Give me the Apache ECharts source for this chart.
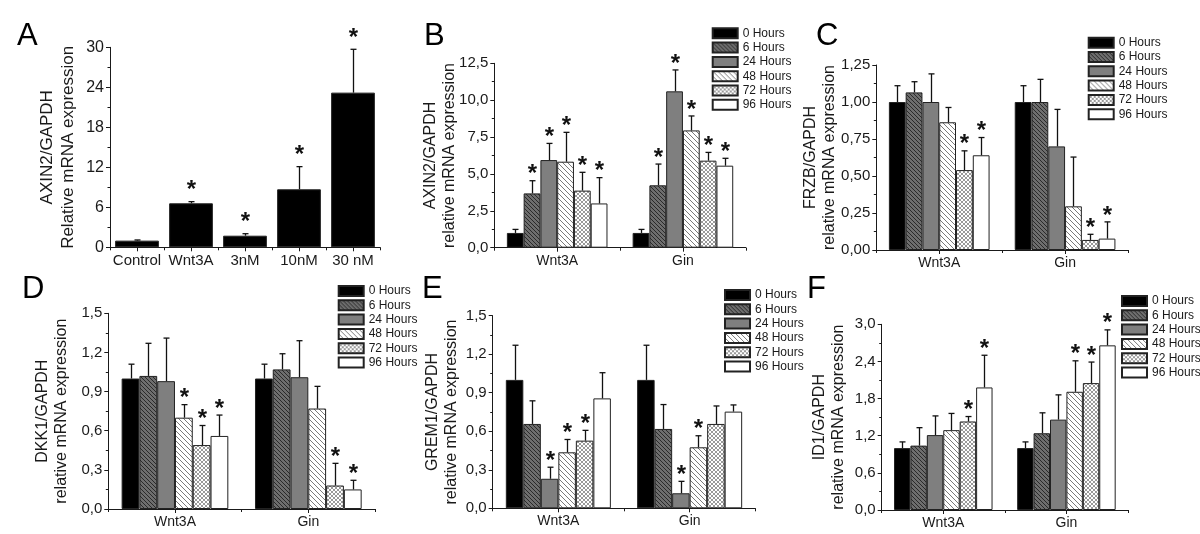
<!DOCTYPE html>
<html><head><meta charset="utf-8">
<script src="https://cdn.jsdelivr.net/npm/echarts@6/dist/echarts.min.js"></script>
<style>html,body{margin:0;padding:0;background:#fff}#c{width:1200px;height:534px}</style>
</head><body><div id="c"></div>
<script>
// ---------- DATA ----------
const groups = ['Wnt3A', 'Gin'];
const hours = ['0 Hours', '6 Hours', '24 Hours', '48 Hours', '72 Hours', '96 Hours'];

// Panel A
const aCategories = ['Control', 'Wnt3A', '3nM', '10nM', '30 nM'];
const aMean = [1.0, 6.6, 1.74, 8.7, 23.2];
const aSD   = [0.1, 0.25, 0.3, 3.4, 6.5];
const aSig  = [0, 1, 1, 1, 1];
const aYTicks = [0, 6, 12, 18, 24, 30];

// Panel B (AXIN2)
const bMeanWnt3A = [1.0, 3.68, 5.94, 5.83, 3.87, 3.0];
const bSDWnt3A   = [0.24, 0.86, 1.13, 1.99, 1.24, 1.75];
const bSigWnt3A  = [0, 1, 1, 1, 1, 1];
const bMeanGin   = [1.0, 4.23, 10.6, 7.95, 5.9, 5.56];
const bSDGin     = [0.24, 1.44, 1.45, 0.98, 0.56, 0.5];
const bSigGin    = [0, 1, 1, 1, 1, 1];
const bYTicks = [0, 2.5, 5, 7.5, 10, 12.5];

// Panel C (FRZB)
const cMeanWnt3A = [1.0, 1.065, 1.0, 0.863, 0.54, 0.64];
const cSDWnt3A   = [0.11, 0.072, 0.19, 0.1, 0.13, 0.12];
const cSigWnt3A  = [0, 0, 0, 0, 1, 1];
const cMeanGin   = [1.0, 1.0, 0.7, 0.295, 0.068, 0.077];
const cSDGin     = [0.11, 0.153, 0.25, 0.333, 0.038, 0.113];
const cSigGin    = [0, 0, 0, 0, 1, 1];
const cYTicks = [0, 0.25, 0.5, 0.75, 1.0, 1.25];

// Panel D (DKK1)
const dMeanWnt3A = [1.0, 1.02, 0.98, 0.7, 0.49, 0.56];
const dSDWnt3A   = [0.11, 0.25, 0.33, 0.1, 0.15, 0.16];
const dSigWnt3A  = [0, 0, 0, 1, 1, 1];
const dMeanGin   = [1.0, 1.07, 1.01, 0.77, 0.18, 0.15];
const dSDGin     = [0.11, 0.12, 0.28, 0.17, 0.17, 0.07];
const dSigGin    = [0, 0, 0, 0, 1, 1];
const dYTicks = [0, 0.3, 0.6, 0.9, 1.2, 1.5];

// Panel E (GREM1)
const eMeanWnt3A = [1.0, 0.657, 0.23, 0.436, 0.527, 0.856];
const eSDWnt3A   = [0.27, 0.18, 0.09, 0.1, 0.08, 0.2];
const eSigWnt3A  = [0, 0, 1, 1, 1, 0];
const eMeanGin   = [1.0, 0.618, 0.117, 0.475, 0.657, 0.753];
const eSDGin     = [0.27, 0.19, 0.093, 0.09, 0.14, 0.052];
const eSigGin    = [0, 0, 1, 1, 0, 0];
const eYTicks = [0, 0.3, 0.6, 0.9, 1.2, 1.5];

// Panel F (ID1)
const fMeanWnt3A = [1.0, 1.04, 1.21, 1.29, 1.43, 1.98];
const fSDWnt3A   = [0.1, 0.29, 0.31, 0.27, 0.08, 0.52];
const fSigWnt3A  = [0, 0, 0, 0, 1, 1];
const fMeanGin   = [1.0, 1.24, 1.46, 1.91, 2.05, 2.66];
const fSDGin     = [0.1, 0.33, 0.4, 0.5, 0.34, 0.25];
const fSigGin    = [0, 0, 0, 1, 1, 1];
const fYTicks = [0, 0.6, 1.2, 1.8, 2.4, 3.0];

// ---------- STYLE / LAYOUT ----------
const FONT = '"Liberation Sans", Arial, sans-serif';
const INK = '#1a1a1a';

function hatch(bg, fg, mode, step) {
  const c = document.createElement('canvas');
  c.width = step; c.height = step;
  const g = c.getContext('2d');
  g.fillStyle = bg; g.fillRect(0, 0, step, step);
  g.strokeStyle = fg; g.lineWidth = 1;
  g.beginPath();
  for (let k = -1; k <= 1; k++) {
    if (mode.indexOf('\\') >= 0) { g.moveTo(k * step, 0); g.lineTo(k * step + step, step); }
    if (mode.indexOf('/') >= 0) { g.moveTo(k * step, step); g.lineTo(k * step + step, 0); }
  }
  g.stroke();
  return { image: c, repeat: 'repeat' };
}
const fills = [
  '#000000',
  hatch('#6e6e6e', '#2a2a2a', '\\', 4),
  '#7f7f7f',
  hatch('#ffffff', '#7a7a7a', '\\', 5),
  hatch('#ffffff', '#9a9a9a', '\\/', 4),
  '#ffffff'
];

const panels = [
  { key: 'A', cats: aCategories, series: [{ name: 'A', mean: aMean, sd: aSD, sig: aSig }], yTicks: aYTicks, dec: 0,
    yName: 'AXIN2/GAPDH\nRelative mRNA expression', grid: { left: 110, top: 47.3, width: 270, height: 200 },
    nameGap: 31, nameSize: 17, tickSize: 16, catSize: 15, letter: [17, 21], astOff: 11 },
  { key: 'B', yTicks: bYTicks, dec: 1, yName: 'AXIN2/GAPDH\nrelative mRNA expression',
    grid: { left: 494.3, top: 63.3, width: 251.5, height: 184.4 }, nameGap: 35, legend: [711.7, 27.3], letter: [424, 21],
    W: [bMeanWnt3A, bSDWnt3A, bSigWnt3A], G: [bMeanGin, bSDGin, bSigGin] },
  { key: 'C', yTicks: cYTicks, dec: 2, yName: 'FRZB/GAPDH\nrelative mRNA expression',
    grid: { left: 876.3, top: 65, width: 251.7, height: 185 }, nameGap: 37, legend: [1087.7, 36.7], letter: [816, 21],
    W: [cMeanWnt3A, cSDWnt3A, cSigWnt3A], G: [cMeanGin, cSDGin, cSigGin] },
  { key: 'D', yTicks: dYTicks, dec: 1, yName: 'DKK1/GAPDH\nrelative mRNA expression',
    grid: { left: 108.3, top: 313.3, width: 266.7, height: 195.7 }, nameGap: 37, legend: [337.7, 285], letter: [22, 274],
    W: [dMeanWnt3A, dSDWnt3A, dSigWnt3A], G: [dMeanGin, dSDGin, dSigGin] },
  { key: 'E', yTicks: eYTicks, dec: 1, yName: 'GREM1/GAPDH\nrelative mRNA expression',
    grid: { left: 492.7, top: 315.7, width: 262.6, height: 192.6 }, nameGap: 32, legend: [724, 289], letter: [422, 274],
    W: [eMeanWnt3A, eSDWnt3A, eSigWnt3A], G: [eMeanGin, eSDGin, eSigGin] },
  { key: 'F', yTicks: fYTicks, dec: 1, yName: 'ID1/GAPDH\nrelative mRNA expression',
    grid: { left: 881.7, top: 324.3, width: 246.3, height: 185.7 }, nameGap: 33.5, legend: [1121, 295], letter: [807, 274],
    W: [fMeanWnt3A, fSDWnt3A, fSigWnt3A], G: [fMeanGin, fSDGin, fSigGin] }
];

const option = {
  animation: false, backgroundColor: '#ffffff',
  grid: [], xAxis: [], yAxis: [], series: [], legend: [], graphic: []
};

panels.forEach((p, gi) => {
  option.grid.push(Object.assign({ containLabel: false, outerBoundsMode: 'none' }, p.grid));
  const cats = p.cats || groups;
  const catSize = p.catSize || 14;
  option.xAxis.push({
    type: 'category', gridIndex: gi, data: cats,
    axisLine: { lineStyle: { color: INK, width: 1 } },
    axisTick: { show: true, alignWithLabel: true, length: 4, inside: false, interval: 0, lineStyle: { color: INK } },
    axisLabel: { color: INK, fontSize: catSize, fontFamily: FONT, margin: 6, interval: 0, hideOverlap: false },
    splitLine: { show: false }
  });
  option.xAxis.push({
    type: 'category', gridIndex: gi, data: cats, position: 'bottom',
    axisLine: { show: false },
    axisTick: { show: true, length: 3, interval: 0, lineStyle: { color: INK } },
    axisLabel: { show: false }, splitLine: { show: false }
  });
  const yt = p.yTicks;
  const dec = p.dec;
  option.yAxis.push({
    type: 'value', gridIndex: gi, min: yt[0], max: yt[yt.length - 1], interval: yt[1] - yt[0],
    axisLine: { show: true, lineStyle: { color: INK, width: 1 } },
    axisTick: { show: true, length: 4, lineStyle: { color: INK } },
    minorTick: { show: true, splitNumber: 2, length: 2.5, lineStyle: { color: INK } },
    splitLine: { show: false },
    axisLabel: { color: INK, fontSize: p.tickSize || 15, fontFamily: FONT, margin: 6,
      formatter: v => v.toFixed(dec).replace('.', ',') },
    name: p.yName, nameLocation: 'middle', nameGap: p.nameGap, nameRotate: 90, nameMoveOverlap: false,
    nameTextStyle: { color: INK, fontSize: p.nameSize || 16, fontFamily: FONT, lineHeight: p.nameSize ? 21 : 19 }
  });

  let sers;
  if (p.series) {
    sers = p.series;
  } else {
    sers = hours.map((h, i) => ({
      name: h,
      mean: [p.W[0][i], p.G[0][i]],
      sd: [p.W[1][i], p.G[1][i]],
      sig: [p.W[2][i], p.G[2][i]]
    }));
  }
  const n = sers.length;
  const errData = [];
  sers.forEach((s, si) => {
    option.series.push({
      type: 'bar', name: s.name, xAxisIndex: gi * 2, yAxisIndex: gi,
      data: s.mean, barGap: '0%', barCategoryGap: n === 1 ? '19%' : '20%', silent: true,
      itemStyle: { color: n === 1 ? '#000000' : fills[si], borderColor: '#222', borderWidth: 1 }
    });
    s.mean.forEach((m, ci) => errData.push([ci, si, m, m + s.sd[ci], s.sig[ci]]));
  });
  const gapFrac = n === 1 ? 0.81 : 0.8;
  const astOff = p.astOff || 6;
  option.series.push({
    type: 'custom', xAxisIndex: gi * 2, yAxisIndex: gi, silent: true, clip: false, z: 5,
    data: errData, encode: { x: 0, y: 3 },
    renderItem: (params, api) => {
      const ci = api.value(0), si = api.value(1), m = api.value(2), top = api.value(3), sig = api.value(4);
      const c0 = api.coord([ci, m]);
      const band = api.size([1, 0])[0];
      const gw = band * gapFrac, bw = gw / n;
      const x = Math.round(c0[0] - gw / 2 + (si + 0.5) * bw) + 0.5;
      const y0 = c0[1];
      const y1 = api.coord([ci, top])[1];
      const ls = { stroke: '#111', lineWidth: 1.3 };
      const children = [
        { type: 'line', shape: { x1: x, y1: y0, x2: x, y2: y1 }, style: ls },
        { type: 'line', shape: { x1: x - 3, y1: y1, x2: x + 3, y2: y1 }, style: ls }
      ];
      if (sig) {
        children.push({ type: 'text', style: { text: '*', x: x, y: y1 - astOff, fill: '#111',
          font: 'bold 24px ' + FONT, align: 'center', verticalAlign: 'middle' } });
      }
      return { type: 'group', children };
    }
  });

  if (p.legend) {
    option.legend.push({
      data: hours, orient: 'vertical', left: p.legend[0], top: p.legend[1], padding: 0,
      itemWidth: 25, itemHeight: 10, itemGap: 2.3, icon: 'rect', selectedMode: false,
      textStyle: { color: INK, fontSize: 12, lineHeight: 12, fontFamily: FONT }
    });
  }
  option.graphic.push({
    type: 'text', left: p.letter[0], top: p.letter[1],
    style: { text: p.key, fill: '#000', font: '31px ' + FONT }
  });
});

const chart = echarts.init(document.getElementById('c'), null, { renderer: 'canvas' });
chart.setOption(option);
</script>
</body></html>
